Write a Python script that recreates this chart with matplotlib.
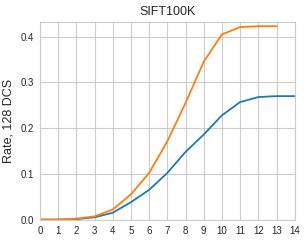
import numpy as np
import matplotlib
matplotlib.use('Agg')
import matplotlib.pyplot as plt
import seaborn as sns

sns.set_style('whitegrid')
plt.rcParams['font.family'] = ['Liberation Sans', 'DejaVu Sans']

# Values
x_blue = [0, 1, 2, 3, 4, 5, 6, 7, 8, 9, 10, 11, 12, 13, 14]
rate_blue = [0.0, 0.0, 0.001, 0.005, 0.015, 0.038, 0.065, 0.102, 0.148, 0.186, 0.228, 0.257, 0.268, 0.270, 0.270]
x_orange = [0, 1, 2, 3, 4, 5, 6, 7, 8, 9, 10, 11, 12, 13]
rate_orange = [0.0, 0.0, 0.002, 0.007, 0.022, 0.055, 0.102, 0.171, 0.255, 0.345, 0.405, 0.421, 0.423, 0.423]
xticks = list(range(15))
yticks = [0.0, 0.1, 0.2, 0.3, 0.4]

fig, ax = plt.subplots(figsize=(3.07, 2.4), dpi=100)
ax.plot(x_blue, rate_blue, color='#1f77b4', lw=1.3)
ax.plot(x_orange, rate_orange, color='#ff7f0e', lw=1.3)
ax.set_xlim(0, 14)
ax.set_ylim(0, 0.433)
ax.set_xticks(xticks)
ax.set_yticks(yticks)
ax.set_yticklabels(['0.0', '0.1', '0.2', '0.3', '0.4'])
ax.tick_params(labelsize=7, pad=1)
ax.set_title('SIFT100K', fontsize=9, pad=5)
ax.set_ylabel('Rate, 128 DCS', fontsize=9)
plt.subplots_adjust(left=0.13, right=0.96, top=0.91, bottom=0.085)
plt.savefig('out.png')
